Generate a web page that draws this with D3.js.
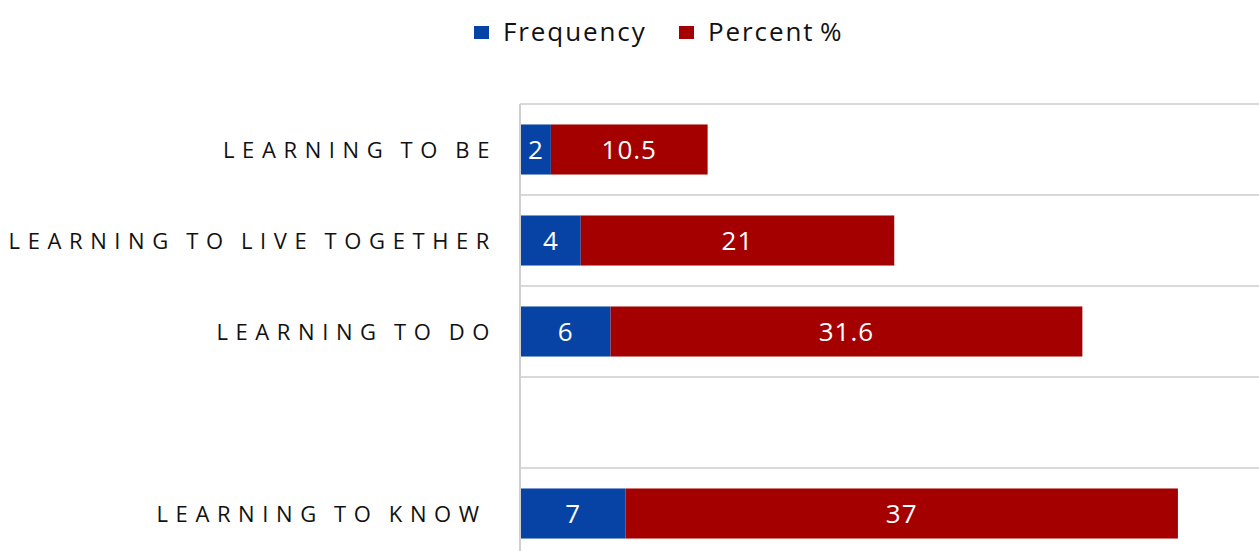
<!DOCTYPE html>
<html><head><meta charset="utf-8">
<script src="https://cdn.jsdelivr.net/npm/d3@7"></script>
<style>html,body{margin:0;padding:0;background:#fff;}svg{display:block;}</style>
</head><body><svg id="c" width="1259" height="551"></svg>
<script>
const categories = ["LEARNING TO BE", "LEARNING TO LIVE TOGETHER", "LEARNING TO DO", "", "LEARNING TO KNOW "];
const frequency = [2, 4, 6, null, 7];
const percent = [10.5, 21, 31.6, null, 37];
const seriesNames = ["Frequency", "Percent %"];
const colors = ["#0643A5", "#A50000"];

const svg = d3.select("#c");
const W = 1259, H = 551;
const x = d3.scaleLinear().domain([0, 50]).range([521, 521 + 50 * 14.93]);
const y = d3.scaleBand().domain(d3.range(categories.length)).range([104, 104 + 91 * categories.length])
  .paddingInner(0.45).paddingOuter(0.225);

// gridlines at band boundaries
const bounds = d3.range(categories.length + 1).map(i => 104 + i * y.step());
svg.append("g").selectAll("line").data(bounds).join("line")
  .attr("x1", 520).attr("x2", W).attr("y1", d => d).attr("y2", d => d)
  .attr("stroke", "#d9d9d9").attr("stroke-width", 2);
// vertical axis line
svg.append("line").attr("x1", 520).attr("x2", 520).attr("y1", 104).attr("y2", H)
  .attr("stroke", "#d0d0d0").attr("stroke-width", 2);

const rows = categories.map((c, i) => ({i, c, f: frequency[i], p: percent[i]}));
const data = rows.filter(r => r.f != null);
const g = svg.append("g");
data.forEach(r => {
  const segs = [{v: r.f, x0: 0, x1: r.f, k: 0}, {v: r.p, x0: r.f, x1: r.f + r.p, k: 1}];
  segs.forEach(s => {
    g.append("rect").attr("x", x(s.x0)).attr("width", x(s.x1) - x(s.x0))
      .attr("y", y(r.i)).attr("height", y.bandwidth()).attr("fill", colors[s.k]);
    g.append("text").attr("x", (x(s.x0) + x(s.x1)) / 2).attr("y", y(r.i) + y.bandwidth() / 2)
      .attr("dy", "0.36em").attr("text-anchor", "middle").attr("fill", "#fff")
      .attr("font-family", "Open Sans").attr("font-size", 26).attr("letter-spacing", "1px").text(s.v);
  });
});

// category labels
svg.append("g").selectAll("text").data(rows.filter(r => r.c)).join("text")
  .attr("x", 497).attr("y", r => y(r.i) + y.bandwidth() / 2 + 1)
  .attr("dy", "0.36em").attr("text-anchor", "end")
  .style("white-space", "pre")
  .attr("font-family", "Open Sans").attr("font-size", 22).attr("letter-spacing", "7.6px")
  .attr("word-spacing", "-3px")
  .attr("fill", "#111").text(r => r.c);

// legend
const leg = svg.append("g");
const legX = [474, 679];
seriesNames.forEach((n, k) => {
  leg.append("rect").attr("x", legX[k]).attr("y", 26).attr("width", 15).attr("height", 13).attr("fill", colors[k]);
  leg.append("text").attr("x", legX[k] + 29).attr("y", 32).attr("dy", "0.36em")
    .attr("font-family", "Open Sans").attr("font-size", 26).attr("letter-spacing", "1.9px")
    .attr("word-spacing", "-3px")
    .attr("fill", "#111").text(n);
});
</script></body></html>
